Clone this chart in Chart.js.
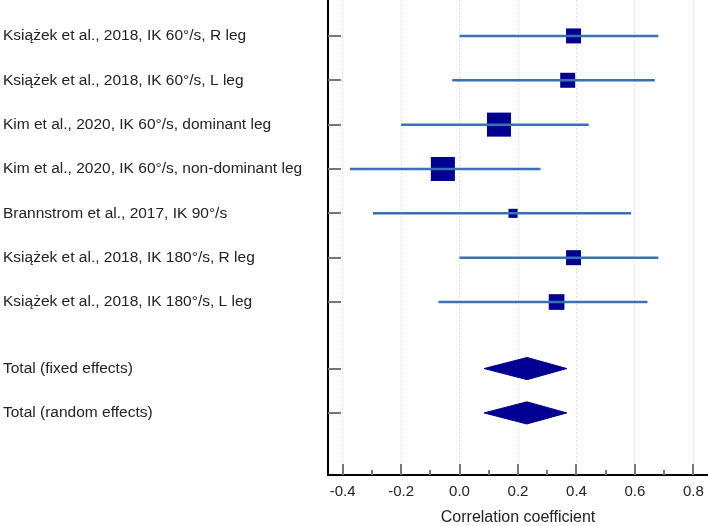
<!DOCTYPE html>
<html>
<head>
<meta charset="utf-8">
<script src="https://cdn.jsdelivr.net/npm/chart.js@4.4.0/dist/chart.umd.min.js"></script>
<style>
  html, body { margin: 0; padding: 0; background: #fff; }
  #wrap { width: 708px; height: 526px; }
</style>
</head>
<body>
<div id="wrap"><canvas id="forest"></canvas></div>
<script>
// Forest plot - correlation coefficients
const studies = [
  "Książek et al., 2018, IK 60°/s, R leg",
  "Książek et al., 2018, IK 60°/s, L leg",
  "Kim et al., 2020, IK 60°/s, dominant leg",
  "Kim et al., 2020, IK 60°/s, non-dominant leg",
  "Brannstrom et al., 2017, IK 90°/s",
  "Książek et al., 2018, IK 180°/s, R leg",
  "Książek et al., 2018, IK 180°/s, L leg",
];
const estimates = [0.39, 0.37, 0.135, -0.057, 0.183, 0.39, 0.332];
const lowerCI = [0.0, -0.025, -0.2, -0.375, -0.296, 0.0, -0.072];
const upperCI = [0.68, 0.668, 0.442, 0.277, 0.587, 0.68, 0.643];
const weights = [10.4, 10.4, 26.7, 26.7, 3.8, 10.4, 11.4];

const totals = ["Total (fixed effects)", "Total (random effects)"];
const totalEst = [0.231, 0.23];
const totalLower = [0.084, 0.084];
const totalUpper = [0.367, 0.367];

const xTicks = [-0.4, -0.2, 0.0, 0.2, 0.4, 0.6, 0.8];

const LINE_BLUE = "#3b6fb6";
const NAVY = "#000092";
const DIAMOND_HALF = 0.25;
const FONT = "Liberation Sans, Arial, sans-serif";

// row positions: studies 1..7, a gap, then the totals
const studyRows = studies.map((_, i) => i + 1);
const totalRows = totals.map((_, i) => studies.length + 1.5 + i);
const rowLabels = {};
studyRows.forEach((r, i) => (rowLabels[r] = studies[i]));
totalRows.forEach((r, i) => (rowLabels[r] = totals[i]));

const ciData = [];
studies.forEach((_, i) => {
  ciData.push({ x: lowerCI[i], y: studyRows[i] });
  ciData.push({ x: upperCI[i], y: studyRows[i] });
  ciData.push({ x: null, y: null });
});

const diamondSets = totals.map((label, i) => ({
  type: "line",
  label: label,
  data: [
    { x: totalLower[i], y: totalRows[i] },
    { x: totalEst[i], y: totalRows[i] - DIAMOND_HALF },
    { x: totalUpper[i], y: totalRows[i] },
    { x: totalEst[i], y: totalRows[i] + DIAMOND_HALF },
    { x: totalLower[i], y: totalRows[i] },
  ],
  borderColor: NAVY,
  backgroundColor: NAVY,
  borderWidth: 1,
  fill: "shape",
  pointRadius: 0,
  tension: 0,
}));

// inner tick marks for both axes
const innerTicks = {
  id: "innerTicks",
  afterDatasetsDraw(chart) {
    const { ctx, chartArea, scales } = chart;
    ctx.save();
    ctx.strokeStyle = "#777";
    ctx.lineWidth = 2;
    ctx.beginPath();
    xTicks.forEach((v) => {
      const px = Math.round(scales.x.getPixelForValue(v));
      ctx.moveTo(px, chartArea.bottom);
      ctx.lineTo(px, chartArea.bottom - 11);
    });
    for (let k = 0; k < xTicks.length; k++) {
      const v = xTicks[k] + 0.1;
      if (v > scales.x.max) break;
      const px = Math.round(scales.x.getPixelForValue(v));
      ctx.moveTo(px, chartArea.bottom);
      ctx.lineTo(px, chartArea.bottom - 5);
    }
    studyRows.concat(totalRows).forEach((r) => {
      const py = Math.round(scales.y.getPixelForValue(r));
      ctx.moveTo(chartArea.left, py);
      ctx.lineTo(chartArea.left + 13, py);
    });
    ctx.stroke();
    ctx.restore();
  },
};

new Chart(document.getElementById("forest"), {
  type: "line",
  data: {
    datasets: [
      {
        label: "CI",
        data: ciData,
        borderColor: LINE_BLUE,
        borderWidth: 2.5,
        pointRadius: 0,
        spanGaps: false,
        fill: false,
      },
      {
        label: "Estimate",
        data: studies.map((_, i) => ({ x: estimates[i], y: studyRows[i] })),
        showLine: false,
        pointStyle: "rect",
        pointRadius: weights.map((w) => (4.65 * Math.sqrt(w)) / Math.SQRT2),
        pointBackgroundColor: NAVY,
        pointBorderColor: NAVY,
        pointBorderWidth: 0,
      },
      ...diamondSets,
    ],
  },
  options: {
    responsive: true,
    maintainAspectRatio: false,
    animation: false,
    layout: { autoPadding: false, padding: { left: 3, right: 0, top: 0, bottom: 0 } },
    plugins: {
      legend: { display: false },
      tooltip: { enabled: false },
    },
    scales: {
      x: {
        type: "linear",
        min: -0.45,
        max: 0.85,
        afterBuildTicks: (scale) => {
          scale.ticks = xTicks.map((v) => ({ value: v }));
        },
        afterFit: (scale) => {
          scale.height = 51;
          scale.paddingLeft = 0;
          scale.paddingRight = 0;
        },
        grid: {
          color: "#dedede",
          lineWidth: 1,
          drawTicks: false,
        },
        border: { display: true, color: "#000", width: 2, dash: [2, 2] },
        ticks: {
          padding: 8,
          color: "#222",
          font: { family: FONT, size: 15 },
          callback: (v) => Number(v).toFixed(1),
        },
        title: {
          display: true,
          text: "Correlation coefficient",
          color: "#222",
          font: { family: FONT, size: 16, lineHeight: 1 },
          padding: { top: 4, bottom: 0 },
        },
      },
      y: {
        type: "linear",
        reverse: true,
        min: 0.19,
        max: 10.9,
        afterBuildTicks: (scale) => {
          scale.ticks = studyRows.concat(totalRows).map((v) => ({ value: v }));
        },
        afterFit: (scale) => {
          scale.width = 325;
          scale.paddingTop = 0;
          scale.paddingBottom = 0;
        },
        grid: { display: false, drawTicks: false },
        border: { display: true, color: "#000", width: 2 },
        ticks: {
          crossAlign: "far",
          color: "#222",
          font: { family: FONT, size: 15.5 },
          callback: (v) => rowLabels[v] || "",
        },
      },
    },
  },
  plugins: [innerTicks],
});
</script>
</body>
</html>
